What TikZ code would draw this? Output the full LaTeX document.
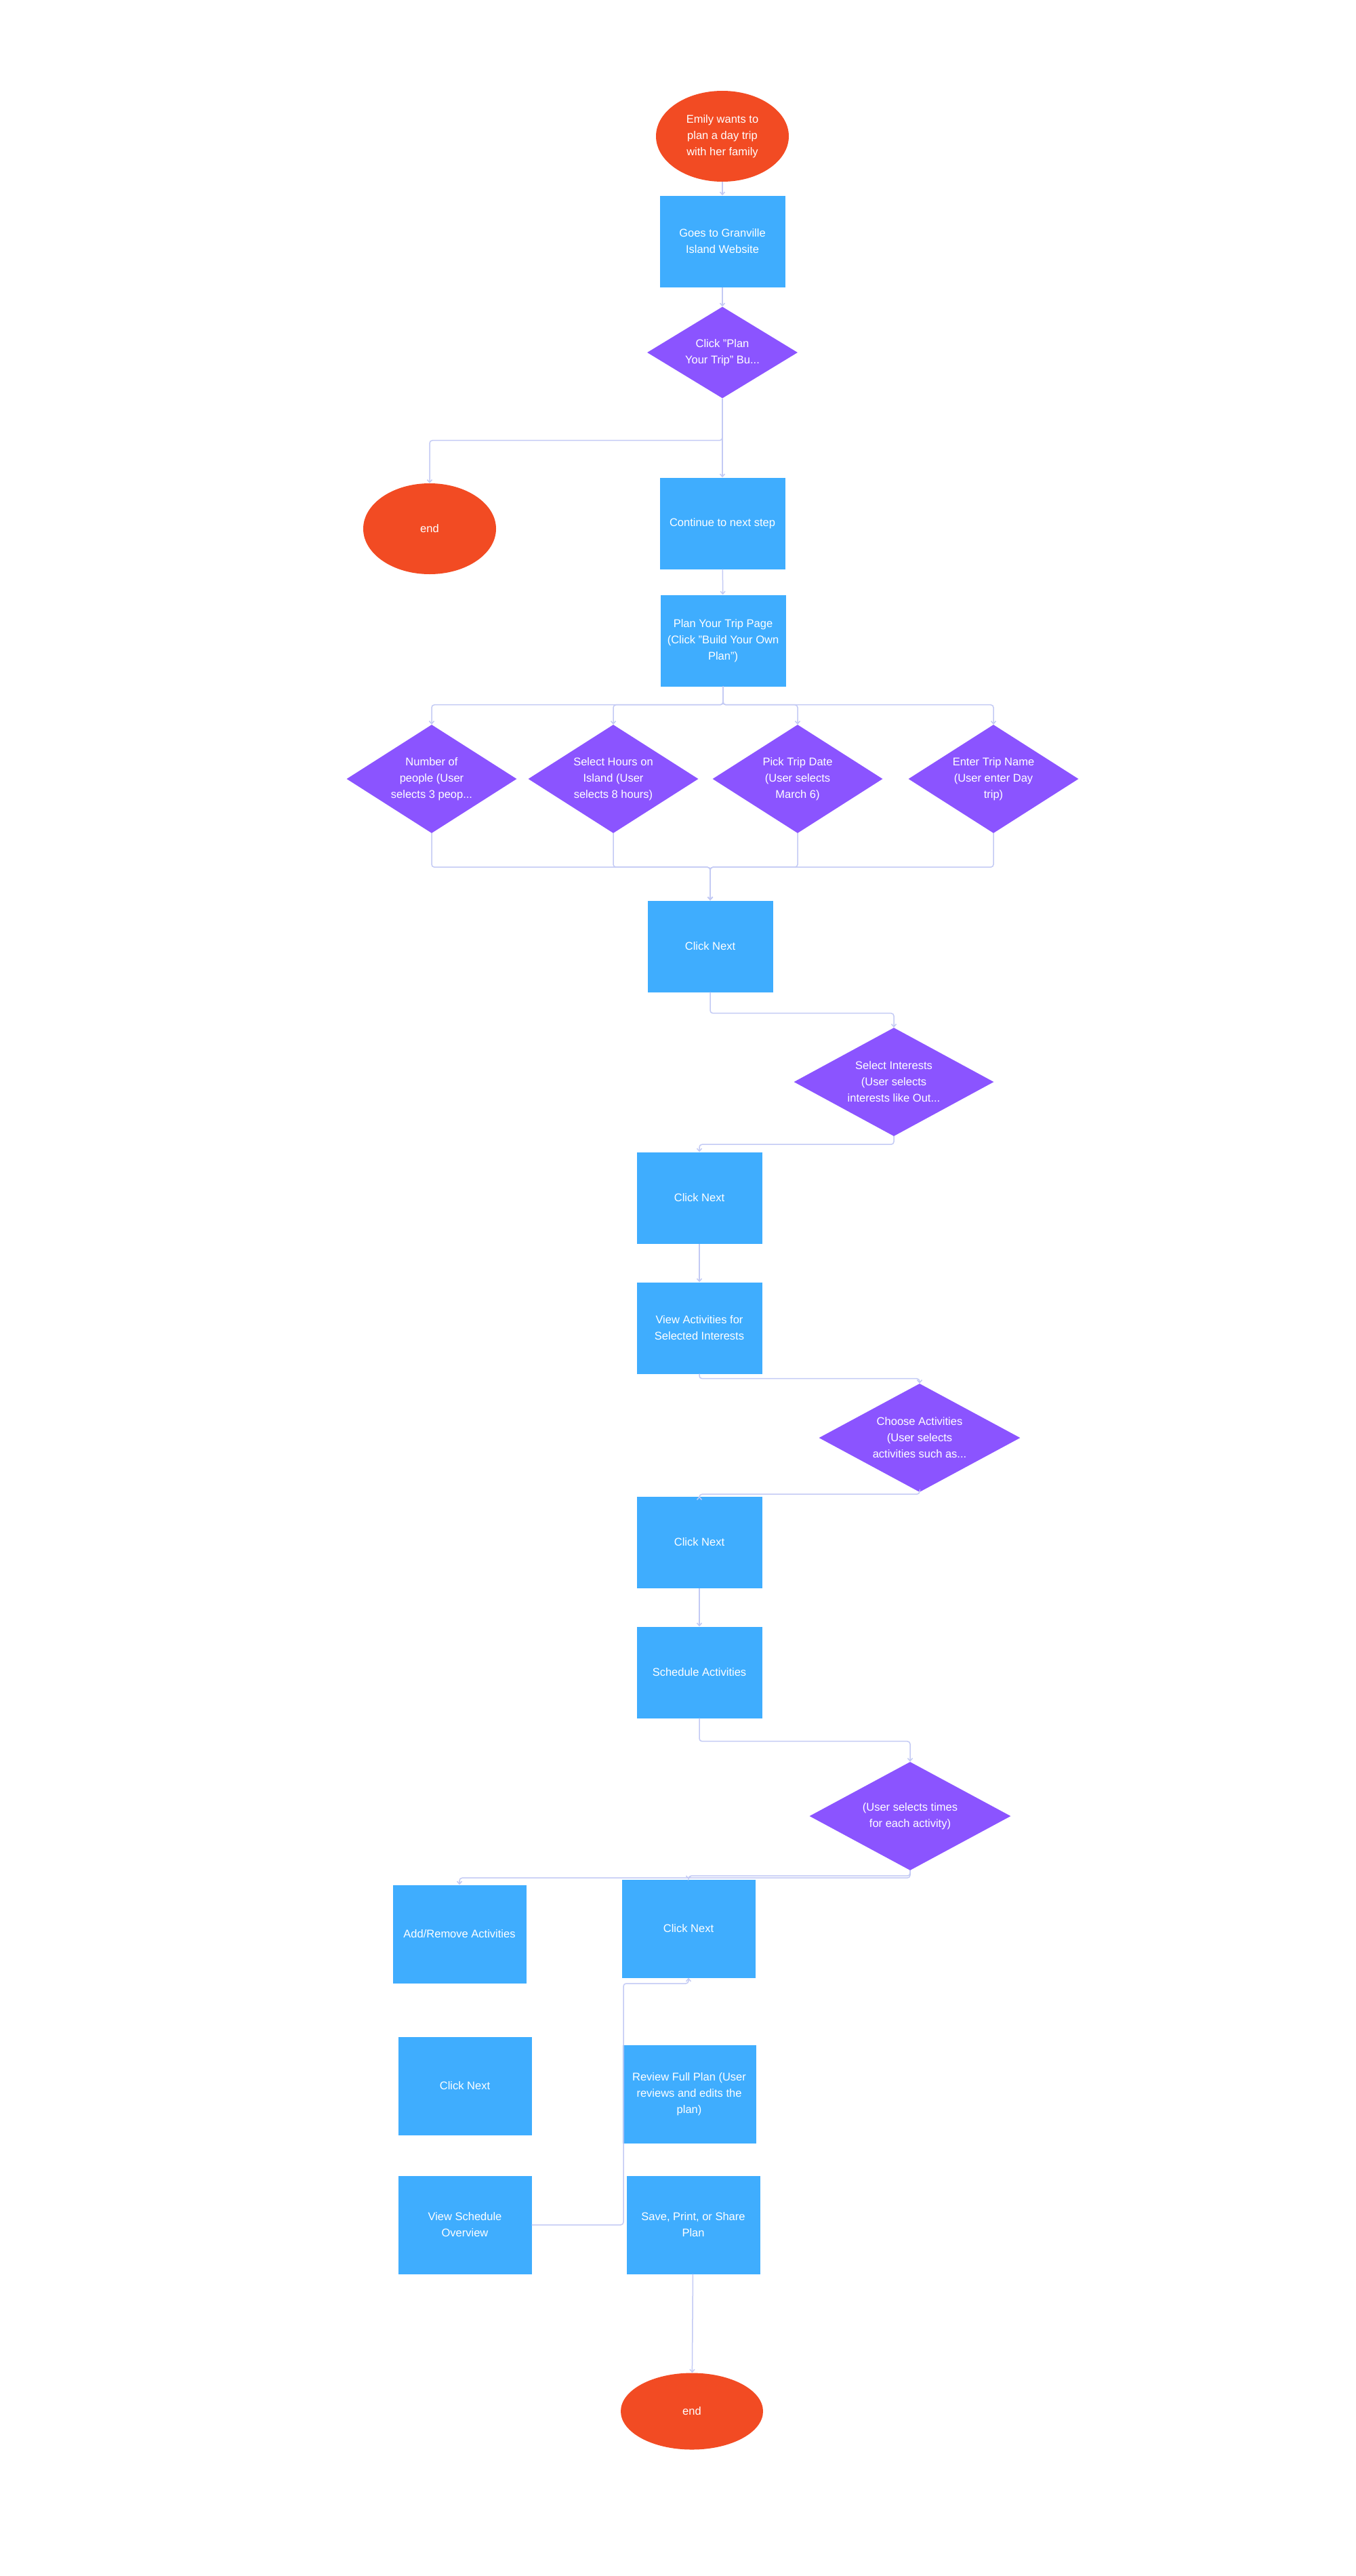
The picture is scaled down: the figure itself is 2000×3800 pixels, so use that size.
\documentclass[tikz,border=0pt]{standalone}
\usepackage{fontspec}
\setmainfont{Liberation Sans}
\usetikzlibrary{shapes.geometric,arrows.meta}

\definecolor{termc}{HTML}{F24B23}
\definecolor{boxc}{HTML}{3FADFE}
\definecolor{decc}{HTML}{8B54FF}
\definecolor{linec}{HTML}{C3CAF4}

\begin{document}
\begin{tikzpicture}[x=1pt,y=-1pt,
        every node/.style={text=white,font=\fontsize{16.5}{24}\selectfont,align=center,inner sep=0pt},
        term/.style={ellipse,fill=termc,minimum width=196,minimum height=134},
        box/.style={rectangle,fill=boxc,minimum width=185,minimum height=135},
        bigbox/.style={box,minimum width=197,minimum height=145},
        dec/.style={diamond,fill=decc,aspect=1.6,minimum width=297,minimum height=160},
        link/.style={draw=linec,line width=1.5pt,rounded corners=4pt,-{Straight Barb[length=4pt,width=7pt]}}]
            \useasboundingbox (0,0) rectangle (2000,3800);

            \node[term] (start) at (1066,201) {Emily wants to\\plan a day trip\\with her family};
            \node[box] (site) at (1066,356) {Goes to Granville\\Island Website};
            \node[dec,minimum width=222,minimum height=135] (plantrip) at (1066,520) {Click "Plan\\Your Trip" Bu...};
            \node[term] (endA) at (634,780) {end};
            \node[box] (cont) at (1066,772) {Continue to next step};
            \node[box] (page) at (1067,945) {Plan Your Trip Page\\(Click "Build Your Own\\Plan")};
            \draw[link] (start) -- (site);
            \draw[link] (site) -- (plantrip);
            \draw[link] (plantrip.south) -- ++(0,62) -| (endA.north);
            \draw[link] (plantrip) -- (cont);
            \draw[link] (cont) -- (page);

            \node[box] (next1) at (1048,1396) {Click Next};
            \foreach \n/\x/\t in {num/637/{Number of\\people (User\\selects 3 peop...},
                    hours/905/{Select Hours on\\Island (User\\selects 8 hours)},
                    date/1177/{Pick Trip Date\\(User selects\\March 6)},
                    name/1466/{Enter Trip Name\\(User enter Day\\trip)}}{
                \node[dec,minimum width=251] (\n) at (\x,1149) {\t};
                \draw[link] (page.south) -- ++(0,27) -| (\n.north);
                \draw[link] (\n.south) -- ++(0,50) -| (next1.north);
            }

            \node[dec,minimum width=295] (interest) at (1319,1596) {Select Interests\\(User selects\\interests like Out...};
            \node[box] (next2) at (1032,1767) {Click Next};
            \node[box] (activ) at (1032,1959) {View Activities for\\Selected Interests};
            \node[dec] (choose) at (1357,2121) {Choose Activities\\(User selects\\activities such as...};
            \node[box] (next3) at (1032,2275) {Click Next};
            \node[box] (sched) at (1032,2467) {Schedule Activities};
            \node[dec] (times) at (1343,2679) {(User selects times\\for each activity)};
            \draw[link] (next1.south) -- ++(0,31) -| (interest.north);
            \draw[link] (interest.south) -- ++(0,12) -| (next2.north);
            \draw[link] (next2) -- (activ);
            \draw[link] (activ.south) -- ++(0,7) -| (choose.north);
            \draw[link] (choose.south) -- ++(0,3) -| (next3.north);
            \draw[link] (next3) -- (sched);
            \draw[link] (sched.south) -- ++(0,34) -| (times.north);

            \node[bigbox] (addrem) at (678,2853) {Add/Remove Activities};
            \node[bigbox] (next4) at (1016,2845) {Click Next};
            \node[bigbox] (next5) at (686,3077) {Click Next};
            \node[bigbox] (review) at (1017,3089) {Review Full Plan (User\\reviews and edits the\\plan)};
            \node[bigbox] (overview) at (686,3282) {View Schedule\\Overview};
            \node[bigbox] (save) at (1023,3282) {Save, Print, or Share\\Plan};
            \node[term,minimum width=210,minimum height=113] (endB) at (1021,3557) {end};
            \coordinate (bend) at (920,2926);
            \draw[link] (times.south) -- ++(0,8) -| (next4.north);
            \draw[link] (times.south) -- ++(0,11) -| (addrem.north);
            \draw[link] (overview.east) -| (bend) -| (next4.south);
            \draw[link] (save) -- (endB);
        \end{tikzpicture}
\end{document}
